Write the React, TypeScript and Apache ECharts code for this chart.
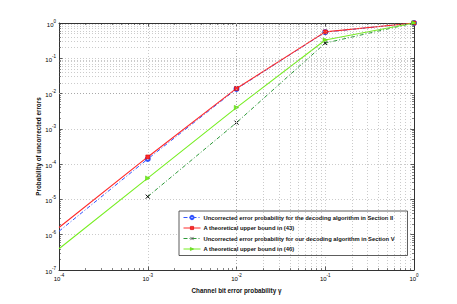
import React, { useEffect, useRef } from "react";
import * as echarts from "echarts";

const xValues = [1e-4, 1e-3, 1e-2, 1e-1, 1];
const sectionII = [1.25e-6, 1.4e-4, 1.35e-2, 0.55, 1];
const bound43 = [1.6e-6, 1.6e-4, 1.4e-2, 0.56, 1];
const sectionV = [null, 1.2e-5, 1.5e-3, 0.27, 1];
const bound46 = [4e-7, 4e-5, 4e-3, 0.33, 1];

const seriesNames = [
  "Uncorrected error probability for the decoding algorithm in Section II",
  "A theoretical upper bound in (43)",
  "Uncorrected error probability for our decoding algorithm in Section V",
  "A theoretical upper bound in (46)",
];

const X_MIN = 1e-4, X_MAX = 1, Y_MIN = 1e-7, Y_MAX = 1;
const FONT = "'Liberation Sans', Arial, Helvetica, sans-serif";

function pts(vals: (number | null)[]) {
  const out: any[] = [];
  vals.forEach((v, i) => {
    if (v === null) return;
    if (xValues[i] === X_MIN) out.push({ value: [xValues[i], v], symbol: "none" });
    else out.push([xValues[i], v]);
  });
  return out;
}

function fmt(v: number) {
  const e = Math.round(Math.log10(v));
  return `{b|10}{s|${e}}`;
}

export default function App() {
  const ref = useRef<HTMLDivElement>(null);
  useEffect(() => {
    const chart = echarts.init(ref.current!, null, { renderer: "svg" });
    const gridStyle = { type: [1, 2] as any, color: "#a8a8a8", width: 0.6 };
    const minorLines: any[] = [];
    const ticks: any[] = [];
    const xTickFac = Math.pow(10, 2 / 88.75);
    const yTickFac = Math.pow(10, 2 / 35.3);
    for (let n = -4; n < 0; n++) {
      for (let k = 2; k <= 9; k++) {
        const x = k * Math.pow(10, n);
        minorLines.push({ xAxis: x });
        ticks.push([{ coord: [x, Y_MIN] }, { coord: [x, Y_MIN * yTickFac] }]);
        ticks.push([{ coord: [x, Y_MAX] }, { coord: [x, Y_MAX / yTickFac] }]);
      }
    }
    for (let n = -7; n < 0; n++) {
      for (let k = 2; k <= 9; k++) {
        const y = k * Math.pow(10, n);
        minorLines.push({ yAxis: y });
        ticks.push([{ coord: [X_MIN, y] }, { coord: [X_MIN * xTickFac, y] }]);
        ticks.push([{ coord: [X_MAX, y] }, { coord: [X_MAX / xTickFac, y] }]);
      }
    }
    const labelRich = {
      b: { fontSize: 6, fontFamily: FONT, color: "#000", verticalAlign: "bottom" },
      s: { fontSize: 4.5, fontFamily: FONT, color: "#000", verticalAlign: "bottom", padding: [0, 0, 4, 0] },
    };
    const axisCommon = {
      type: "log" as const,
      logBase: 10,
      axisLine: { show: true, lineStyle: { color: "#333", width: 1 } },
      axisTick: { show: true, inside: true, length: 3.5, lineStyle: { color: "#333", width: 0.8 } },
    };
    chart.setOption({
      animation: false,
      backgroundColor: "#fff",
      grid: { left: 59, top: 23, right: 43, bottom: 34, show: false },
      xAxis: [
        {
          ...axisCommon,
          min: X_MIN,
          max: X_MAX,
          position: "bottom",
          name: "Channel bit error probability γ",
          nameLocation: "middle",
          nameGap: 17,
          nameMoveOverlap: false,
          nameTextStyle: { fontSize: 6.3, fontWeight: "bold", fontFamily: FONT, color: "#111" },
          axisLabel: { formatter: fmt, rich: labelRich, margin: 3 },
          splitLine: { show: true, lineStyle: gridStyle },
        },
        {
          ...axisCommon,
          min: X_MIN,
          max: X_MAX,
          position: "top",
          axisLabel: { show: false },
          splitLine: { show: false },
        },
      ],
      yAxis: [
        {
          ...axisCommon,
          min: Y_MIN,
          max: Y_MAX,
          position: "left",
          name: "Probability of uncorrected errors",
          nameLocation: "middle",
          nameGap: 21,
          nameMoveOverlap: false,
          nameRotate: 90,
          nameTextStyle: { fontSize: 6.3, fontWeight: "bold", fontFamily: FONT, color: "#111", verticalAlign: "middle" },
          axisLabel: { formatter: fmt, rich: labelRich, margin: 3 },
          splitLine: { show: true, lineStyle: gridStyle },
        },
        {
          ...axisCommon,
          min: Y_MIN,
          max: Y_MAX,
          position: "right",
          axisLabel: { show: false },
          splitLine: { show: false },
        },
      ],
      legend: {
        data: seriesNames,
        orient: "vertical",
        left: 179,
        top: 211,
        padding: [3, 13, 3, 4],
        itemGap: 3.5,
        itemWidth: 17,
        itemHeight: 4,
        itemStyle: { borderWidth: 0.6 },
        lineStyle: { width: 1 },
        borderColor: "#333",
        borderWidth: 0.8,
        backgroundColor: "#fff",
        textStyle: { fontSize: 5.8, fontWeight: "bold", fontFamily: FONT, color: "#111", padding: [0, 0, 0, -2], lineHeight: 7 },
      },
      series: [
        {
          type: "line",
          name: "grid",
          data: [],
          z: 1,
          silent: true,
          markLine: {
            silent: true,
            symbol: "none",
            label: { show: false },
            lineStyle: gridStyle,
            data: minorLines,
            animation: false,
          },
        },
        {
          type: "line",
          name: "ticks",
          data: [],
          z: 1,
          silent: true,
          markLine: {
            silent: true,
            symbol: "none",
            label: { show: false },
            lineStyle: { type: "solid", color: "#333", width: 0.6 },
            data: ticks,
            animation: false,
          },
        },
        {
          type: "line",
          name: seriesNames[0],
          data: pts(sectionII),
          z: 3,
          symbol: "emptyCircle",
          symbolSize: 4,
          lineStyle: { color: "#3355ff", width: 1, type: [4, 2, 1, 2] },
          itemStyle: { color: "#3355ff", borderColor: "#3355ff", borderWidth: 0.8 },
        },
        {
          type: "line",
          name: seriesNames[1],
          data: pts(bound43),
          z: 4,
          symbol: "rect",
          symbolSize: 4,
          lineStyle: { color: "#ff2a2a", width: 1.1 },
          itemStyle: { color: "#ff2a2a", borderColor: "#cc0000", borderWidth: 0.5 },
        },
        {
          type: "line",
          name: seriesNames[2],
          data: pts(sectionV),
          z: 3,
          symbol: "path://M0,0L10,10M10,0L0,10",
          symbolSize: 4,
          lineStyle: { color: "#2f9a3a", width: 1, type: [4, 2, 1, 2] },
          itemStyle: { color: "#000", borderColor: "#000", borderWidth: 1 },
        },
        {
          type: "line",
          name: seriesNames[3],
          data: pts(bound46),
          z: 4,
          symbol: "triangle",
          symbolRotate: -90,
          symbolSize: 4.5,
          lineStyle: { color: "#77ee22", width: 1.1 },
          itemStyle: { color: "#77ee22", borderColor: "#55cc11", borderWidth: 0.5 },
        },
      ],
    });
    return () => chart.dispose();
  }, []);
  return (
    <div
      ref={ref}
      style={{ position: "fixed", left: 0, top: 0, width: 457, height: 304 }}
    />
  );
}
